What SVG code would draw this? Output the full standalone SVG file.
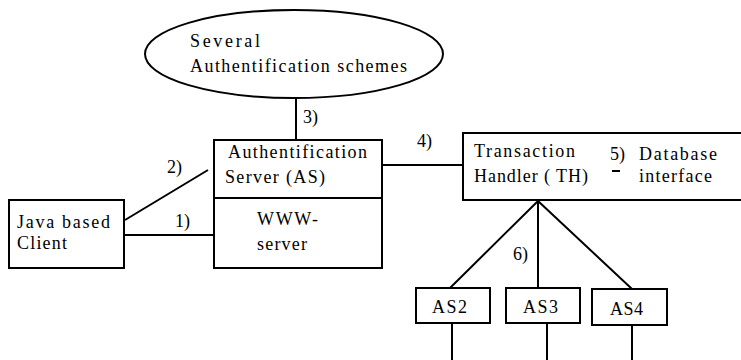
<svg xmlns="http://www.w3.org/2000/svg" width="741" height="360" viewBox="0 0 741 360">
<style>
.box{fill:#fff;stroke:#000;stroke-width:2}
.ln{fill:none;stroke:#000;stroke-width:2}
text{font-family:"Liberation Serif","Times New Roman",serif;font-size:18px;fill:#000}
</style>
<rect width="741" height="360" fill="#fff"/>
<g id="connectors">
  <path class="ln" d="M296 98 V140"/>
  <path class="ln" d="M125 235 H214"/>
  <path class="ln" d="M125 220 L208 170"/>
  <path class="ln" d="M382 165 H463"/>
  <path class="ln" d="M538 201 L450 288 M538 201 V288 M538 201 L632 289"/>
  <path class="ln" d="M452 323 V360 M547 323 V360 M632 325 V360"/>
  <text x="303" y="123">3)</text>
  <text x="175" y="227">1)</text>
  <text x="167" y="173">2)</text>
  <text x="417" y="147">4)</text>
  <text x="513" y="260">6)</text>
</g>
<g id="schemes">
  <ellipse class="box" cx="294" cy="54" rx="149" ry="44"/>
  <text x="190" y="47" textLength="70" lengthAdjust="spacing">Several</text>
  <text x="190" y="72" textLength="217" lengthAdjust="spacing">Authentification schemes</text>
</g>
<g id="as">
  <rect class="box" x="214" y="140" width="168" height="128"/>
  <path class="ln" d="M214 198 H382"/>
  <text x="228" y="158" textLength="139" lengthAdjust="spacing">Authentification</text>
  <text x="225" y="183" textLength="100" lengthAdjust="spacing">Server (AS)</text>
  <text x="257" y="225" textLength="61" lengthAdjust="spacing">WWW-</text>
  <text x="257" y="250" textLength="50" lengthAdjust="spacing">server</text>
</g>
<g id="client">
  <rect class="box" x="9" y="200" width="115" height="68"/>
  <text x="17" y="228" textLength="93" lengthAdjust="spacing">Java based</text>
  <text x="17" y="249" textLength="50" lengthAdjust="spacing">Client</text>
</g>
<g id="th">
  <rect class="box" x="463" y="133" width="290" height="67"/>
  <text x="474" y="157" textLength="101" lengthAdjust="spacing">Transaction</text>
  <text x="474" y="182" textLength="114" lengthAdjust="spacing">Handler ( TH)</text>
  <text x="610" y="160">5)</text>
  <path class="ln" d="M612 171 H620"/>
  <text x="639" y="160" textLength="78" lengthAdjust="spacing">Database</text>
  <text x="639" y="182" textLength="73" lengthAdjust="spacing">interface</text>
</g>
<g id="as2">
  <rect class="box" x="416" y="288" width="74" height="35"/>
  <text x="432" y="313" textLength="35" lengthAdjust="spacing">AS2</text>
</g>
<g id="as3">
  <rect class="box" x="506" y="288" width="74" height="35"/>
  <text x="523" y="313" textLength="35" lengthAdjust="spacing">AS3</text>
</g>
<g id="as4">
  <rect class="box" x="592" y="289" width="75" height="36"/>
  <text x="610" y="315" textLength="33" lengthAdjust="spacing">AS4</text>
</g>
</svg>
